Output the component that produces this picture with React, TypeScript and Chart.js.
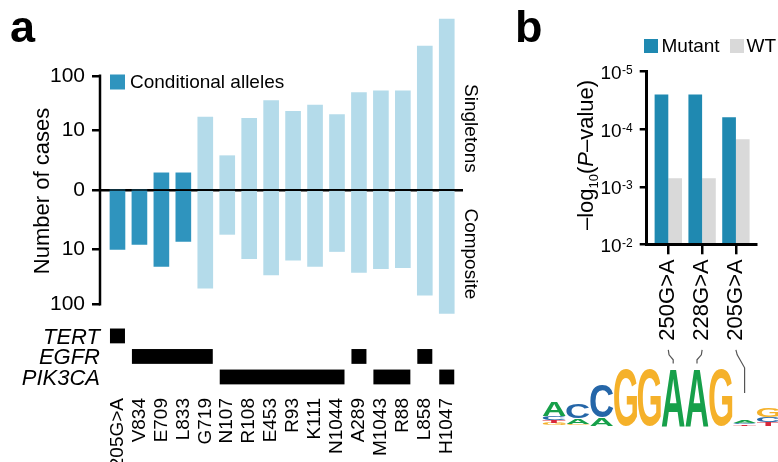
import React, { useEffect, useRef } from 'react';
import { Chart, registerables } from 'chart.js';

Chart.register(...registerables);

const FONT = '"Liberation Sans", Arial, Helvetica, sans-serif';
Chart.defaults.font.family = FONT;
Chart.defaults.color = '#000';

// ---------- Panel a data ----------
const alleles = ['205G>A', 'V834', 'E709', 'L833', 'G719', 'N107', 'R108', 'E453', 'R93', 'K111', 'N1044', 'A289', 'M1043', 'R88', 'L858', 'H1047'];
const singletons = [0, 0, 1, 1, 18, 3, 17, 36, 23, 30, 20, 50, 54, 54, 335, 1000];
const composite = [10, 8, 21, 7, 52, 5, 15, 30, 16, 21, 11, 27, 23, 22, 69, 146];
const conditionalAlleles = ['205G>A', 'V834', 'E709', 'L833'];
const geneRows = ['TERT', 'EGFR', 'PIK3CA'];
const alleleGene = ['TERT', 'EGFR', 'EGFR', 'EGFR', 'EGFR', 'PIK3CA', 'PIK3CA', 'PIK3CA', 'PIK3CA', 'PIK3CA', 'PIK3CA', 'EGFR', 'PIK3CA', 'PIK3CA', 'EGFR', 'PIK3CA'];
const countTicks = [100, 10, 0, -10, -100];

// ---------- Panel b data ----------
const promoters = ['250G>A', '228G>A', '205G>A'];
const mutantP = [2.5e-5, 2.5e-5, 6.2e-5];
const wtP = [7.1e-4, 7.1e-4, 1.5e-4];
const pTicks = [1e-5, 1e-4, 1e-3, 1e-2];
const promoterLogoColumn = [5, 6, 8];
const logoStacks: [string, number][][] = [
  [['G', 0.1], ['T', 0.08], ['C', 0.15], ['A', 0.5]],
  [['G', 0.06], ['A', 0.2], ['C', 0.5]],
  [['A', 0.28], ['C', 1.16]],
  [['G', 2]],
  [['G', 2]],
  [['A', 2]],
  [['A', 2]],
  [['G', 2]],
  [['T', 0.06], ['C', 0.04], ['A', 0.07]],
  [['T', 0.12], ['C', 0.16], ['G', 0.34]],
];
const logoColors: Record<string, string> = { A: '#17a04a', C: '#2566a8', G: '#f5b12a', T: '#d8283b' };

const DARK = '#2f94be';
const LIGHT = '#b4dbea';
const MUT = '#1f89b1';
const WTC = '#d9d9d9';

const tf = (v: number) => Math.sign(v) * Math.log10(1 + Math.abs(v));

function drawLetter(ctx: CanvasRenderingContext2D, ch: string, x: number, yBottom: number, w: number, h: number, color: string) {
  if (h <= 0.2) return;
  ctx.save();
  ctx.font = `bold 100px ${FONT}`;
  ctx.textAlign = 'left';
  ctx.textBaseline = 'alphabetic';
  const m = ctx.measureText(ch);
  const inkW = m.actualBoundingBoxLeft + m.actualBoundingBoxRight;
  const inkH = m.actualBoundingBoxAscent + m.actualBoundingBoxDescent;
  ctx.translate(x, yBottom);
  ctx.scale(w / inkW, h / inkH);
  ctx.fillStyle = color;
  ctx.fillText(ch, m.actualBoundingBoxLeft, -m.actualBoundingBoxDescent);
  ctx.restore();
}

const panelAPlugin = {
  id: 'panelA',
  afterDraw(chart: any) {
    const { ctx, chartArea } = chart;
    const x = chart.scales.x;
    const y = chart.scales.y;
    ctx.save();
    // y axis line
    ctx.strokeStyle = '#000';
    ctx.lineWidth = 2.5;
    ctx.beginPath();
    ctx.moveTo(chartArea.left, y.getPixelForValue(tf(100)) - 1.25);
    ctx.lineTo(chartArea.left, y.getPixelForValue(tf(-100)) + 1.25);
    ctx.stroke();

    // gene matrix
    const meta = chart.getDatasetMeta(0);
    ctx.fillStyle = '#000';
    geneRows.forEach((g, r) => {
      const top = y.getPixelForValue(-2.43 - 0.36 * r);
      const bottom = y.getPixelForValue(-2.69 - 0.36 * r);
      let i = 0;
      while (i < alleles.length) {
        if (alleleGene[i] !== g) { i++; continue; }
        let j = i;
        while (j + 1 < alleles.length && alleleGene[j + 1] === g) j++;
        const l = x.getPixelForValue(i) - meta.data[i].width / 2;
        const rr = x.getPixelForValue(j) + meta.data[j].width / 2;
        ctx.fillRect(l, top, rr - l, bottom - top);
        i = j + 1;
      }
      ctx.font = `italic 22px ${FONT}`;
      ctx.textAlign = 'right';
      ctx.textBaseline = 'alphabetic';
      ctx.fillText(g, chartArea.left, bottom + 0.5);
    });

    // panel letter
    ctx.font = `bold 45px ${FONT}`;
    ctx.textAlign = 'left';
    ctx.textBaseline = 'alphabetic';
    ctx.fillText('a', 10, 41.7);

    // legend
    ctx.fillStyle = DARK;
    ctx.fillRect(110, 74.5, 15, 15);
    ctx.fillStyle = '#000';
    ctx.font = `19px ${FONT}`;
    ctx.textBaseline = 'middle';
    ctx.fillText('Conditional alleles', 130, 82.5);

    // y title
    ctx.save();
    ctx.translate(43, 191);
    ctx.rotate(-Math.PI / 2);
    ctx.font = `22px ${FONT}`;
    ctx.textAlign = 'center';
    ctx.textBaseline = 'middle';
    ctx.fillText('Number of cases', 0, 0);
    ctx.restore();

    // side labels
    const side = (t: string, cy: number) => {
      ctx.save();
      ctx.translate(470, cy);
      ctx.rotate(Math.PI / 2);
      ctx.font = `19px ${FONT}`;
      ctx.textAlign = 'center';
      ctx.textBaseline = 'middle';
      ctx.fillText(t, 0, 0);
      ctx.restore();
    };
    side('Singletons', y.getPixelForValue(1.08));
    side('Composite', y.getPixelForValue(-1.12));
    ctx.restore();
  },
};

const panelBPlugin = {
  id: 'panelB',
  afterDraw(chart: any) {
    const { ctx, chartArea } = chart;
    const x = chart.scales.x;
    const y = chart.scales.y;
    ctx.save();
    ctx.fillStyle = '#000';

    // y tick labels with superscripts
    const labelRight = chartArea.left - 14;
    y.ticks.forEach((t: any) => {
      const py = y.getPixelForValue(t.value);
      const exp = `-${Math.round(t.value)}`;
      ctx.textAlign = 'right';
      ctx.textBaseline = 'alphabetic';
      ctx.font = `12px ${FONT}`;
      const supW = ctx.measureText(exp).width;
      ctx.fillText(exp, labelRight, py + 2.5);
      ctx.font = `19px ${FONT}`;
      ctx.fillText('10', labelRight - supW - 0.5, py + 7.5);
    });

    // y title
    ctx.save();
    ctx.translate(85, 155);
    ctx.rotate(-Math.PI / 2);
    const parts = [
      { t: '\u2013log', f: `22px ${FONT}`, dy: 0 },
      { t: '10', f: `13px ${FONT}`, dy: 5 },
      { t: '(', f: `22px ${FONT}`, dy: 0 },
      { t: 'P', f: `italic 22px ${FONT}`, dy: 0 },
      { t: '\u2013value)', f: `22px ${FONT}`, dy: 0 },
    ];
    let total = 0;
    const widths = parts.map((p) => { ctx.font = p.f; const w = ctx.measureText(p.t).width; total += w; return w; });
    let cx = -total / 2;
    ctx.textAlign = 'left';
    ctx.textBaseline = 'alphabetic';
    parts.forEach((p, i) => {
      ctx.font = p.f;
      ctx.fillText(p.t, cx, 8 + p.dy);
      cx += widths[i];
    });
    ctx.restore();

    // panel letter
    ctx.font = `bold 45px ${FONT}`;
    ctx.textAlign = 'left';
    ctx.textBaseline = 'alphabetic';
    ctx.fillText('b', 15, 41.7);

    // legend
    ctx.font = `19px ${FONT}`;
    ctx.textBaseline = 'middle';
    ctx.fillStyle = MUT;
    ctx.fillRect(144, 39, 14, 14);
    ctx.fillStyle = '#000';
    ctx.fillText('Mutant', 161.5, 46.5);
    ctx.fillStyle = WTC;
    ctx.fillRect(230, 39, 14, 14);
    ctx.fillStyle = '#000';
    ctx.fillText('WT', 246.5, 46.5);

    // logo
    const base = 425.5;
    const bitPx = 28.5;
    const colLeft = (c: number) => 42.7 + 23.8 * c;
    const stackTop: number[] = [];
    logoStacks.forEach((stack, c) => {
      let yc = base;
      stack.forEach(([letter, bits]) => {
        const h = bits * bitPx;
        drawLetter(ctx, letter, colLeft(c), yc, 23, h, logoColors[letter]);
        yc -= h;
      });
      stackTop.push(yc);
    });

    // connectors
    ctx.strokeStyle = '#555';
    ctx.lineWidth = 1.2;
    promoters.forEach((_, i) => {
      const sx = x.getPixelForValue(i);
      const sy = chartArea.bottom + 105.5;
      const col = promoterLogoColumn[i];
      const tx = colLeft(col) + 11.5;
      const small = stackTop[col] > 400;
      ctx.beginPath();
      ctx.moveTo(sx, sy);
      ctx.lineTo(sx + 0.15 * (tx - sx), sy + 5);
      ctx.lineTo(tx, small ? sy + 18 : sy + 10);
      ctx.lineTo(tx, small ? 393 : stackTop[col] - 5);
      ctx.stroke();
    });
    ctx.restore();
  },
};

const fitX = (h: number) => (s: any) => {
  s.height = h;
  s.paddingLeft = 0;
  s.paddingRight = 0;
  s.paddingTop = 0;
  s.paddingBottom = 0;
};
const fitY = (w: number) => (s: any) => {
  s.width = w;
  s.paddingLeft = 0;
  s.paddingRight = 0;
  s.paddingTop = 0;
  s.paddingBottom = 0;
};

export default function App() {
  const refA = useRef<HTMLCanvasElement>(null);
  const refB = useRef<HTMLCanvasElement>(null);

  useEffect(() => {
    const barColors = alleles.map((a) => (conditionalAlleles.includes(a) ? DARK : LIGHT));
    const chartA = new Chart(refA.current as HTMLCanvasElement, {
      type: 'bar',
      data: {
        datasets: [
          {
            label: 'Singletons',
            data: alleles.map((_, i) => ({ x: i, y: tf(singletons[i]) })),
            backgroundColor: barColors,
            barThickness: 15,
          },
          {
            label: 'Composite',
            data: alleles.map((_, i) => ({ x: i, y: -tf(composite[i]) })),
            backgroundColor: barColors,
            barThickness: 15,
          },
        ],
      } as any,
      options: {
        responsive: false,
        animation: false,
        layout: { padding: { top: 8, right: 37, left: 0, bottom: 0 } },
        plugins: { legend: { display: false }, tooltip: { enabled: false } },
        scales: {
          x: {
            type: 'linear',
            offset: false,
            stacked: true,
            min: -0.796,
            max: 15.74,
            afterBuildTicks: (s: any) => { s.ticks = alleles.map((_, i) => ({ value: i })); },
            afterFit: fitX(75),
            ticks: {
              autoSkip: false,
              minRotation: 90,
              maxRotation: 90,
              padding: 3,
              font: { size: 19, family: FONT },
              color: '#000',
              callback: (v: any) => alleles[v] ?? '',
            },
            grid: { display: false, offset: false },
            border: { display: false },
          },
          y: {
            type: 'linear',
            stacked: true,
            min: -3.456,
            max: 3.193,
            z: 1,
            afterBuildTicks: (s: any) => { s.ticks = countTicks.map((c) => ({ value: tf(c) })); },
            afterFit: fitY(100),
            ticks: {
              padding: 7,
              font: { size: 21, family: FONT },
              color: '#000',
              callback: (_v: any, i: number) => String(Math.abs(countTicks[i])),
            },
            grid: {
              drawOnChartArea: true,
              color: (c: any) => (c.tick && c.tick.value === 0 ? '#000' : 'rgba(0,0,0,0)'),
              tickColor: '#000',
              tickLength: 8,
              lineWidth: 2.5,
            },
            border: { display: false },
          },
        },
      } as any,
      plugins: [panelAPlugin],
    });

    const chartB = new Chart(refB.current as HTMLCanvasElement, {
      type: 'bar',
      data: {
        datasets: [
          {
            label: 'Mutant',
            data: promoters.map((_, i) => ({ x: i, y: -Math.log10(mutantP[i]) })),
            backgroundColor: MUT,
            base: 2,
            categoryPercentage: 0.81,
            barPercentage: 1,
          },
          {
            label: 'WT',
            data: promoters.map((_, i) => ({ x: i, y: -Math.log10(wtP[i]) })),
            backgroundColor: WTC,
            base: 2,
            categoryPercentage: 0.81,
            barPercentage: 1,
          },
        ],
      } as any,
      options: {
        responsive: false,
        animation: false,
        layout: { padding: { top: 71.7, right: 21.3, left: 46.7, bottom: 0 } },
        plugins: { legend: { display: false }, tooltip: { enabled: false } },
        scales: {
          x: {
            type: 'linear',
            offset: false,
            min: -0.639,
            max: 2.615,
            afterBuildTicks: (s: any) => { s.ticks = promoters.map((_, i) => ({ value: i })); },
            afterFit: fitX(217.7),
            ticks: {
              autoSkip: false,
              minRotation: 90,
              maxRotation: 90,
              padding: 5,
              font: { size: 22, family: FONT },
              color: '#000',
              callback: (v: any) => promoters[v] ?? '',
            },
            grid: { drawOnChartArea: false, drawTicks: true, offset: false, tickLength: 10, color: '#000', tickColor: '#000', lineWidth: 2.5 },
            border: { display: true, color: '#000', width: 3 },
          },
          y: {
            type: 'linear',
            min: 2,
            max: 5,
            afterBuildTicks: (s: any) => { s.ticks = pTicks.map((p) => ({ value: -Math.log10(p) })); },
            afterFit: fitY(100),
            ticks: { callback: () => '', padding: 0 },
            grid: { drawOnChartArea: false, drawTicks: true, tickLength: 7, color: '#000', tickColor: '#000', lineWidth: 2.5 },
            border: { display: true, color: '#000', width: 3 },
          },
        },
      } as any,
      plugins: [panelBPlugin],
    });

    return () => {
      chartA.destroy();
      chartB.destroy();
    };
  }, []);

  return (
    <div style={{ position: 'fixed', left: 0, top: 0, width: 778, height: 462, background: '#fff' }}>
      <canvas ref={refA} width={500} height={462} style={{ position: 'absolute', left: 0, top: 0, width: 500, height: 462 }} />
      <canvas ref={refB} width={278} height={462} style={{ position: 'absolute', left: 500, top: 0, width: 278, height: 462 }} />
    </div>
  );
}
